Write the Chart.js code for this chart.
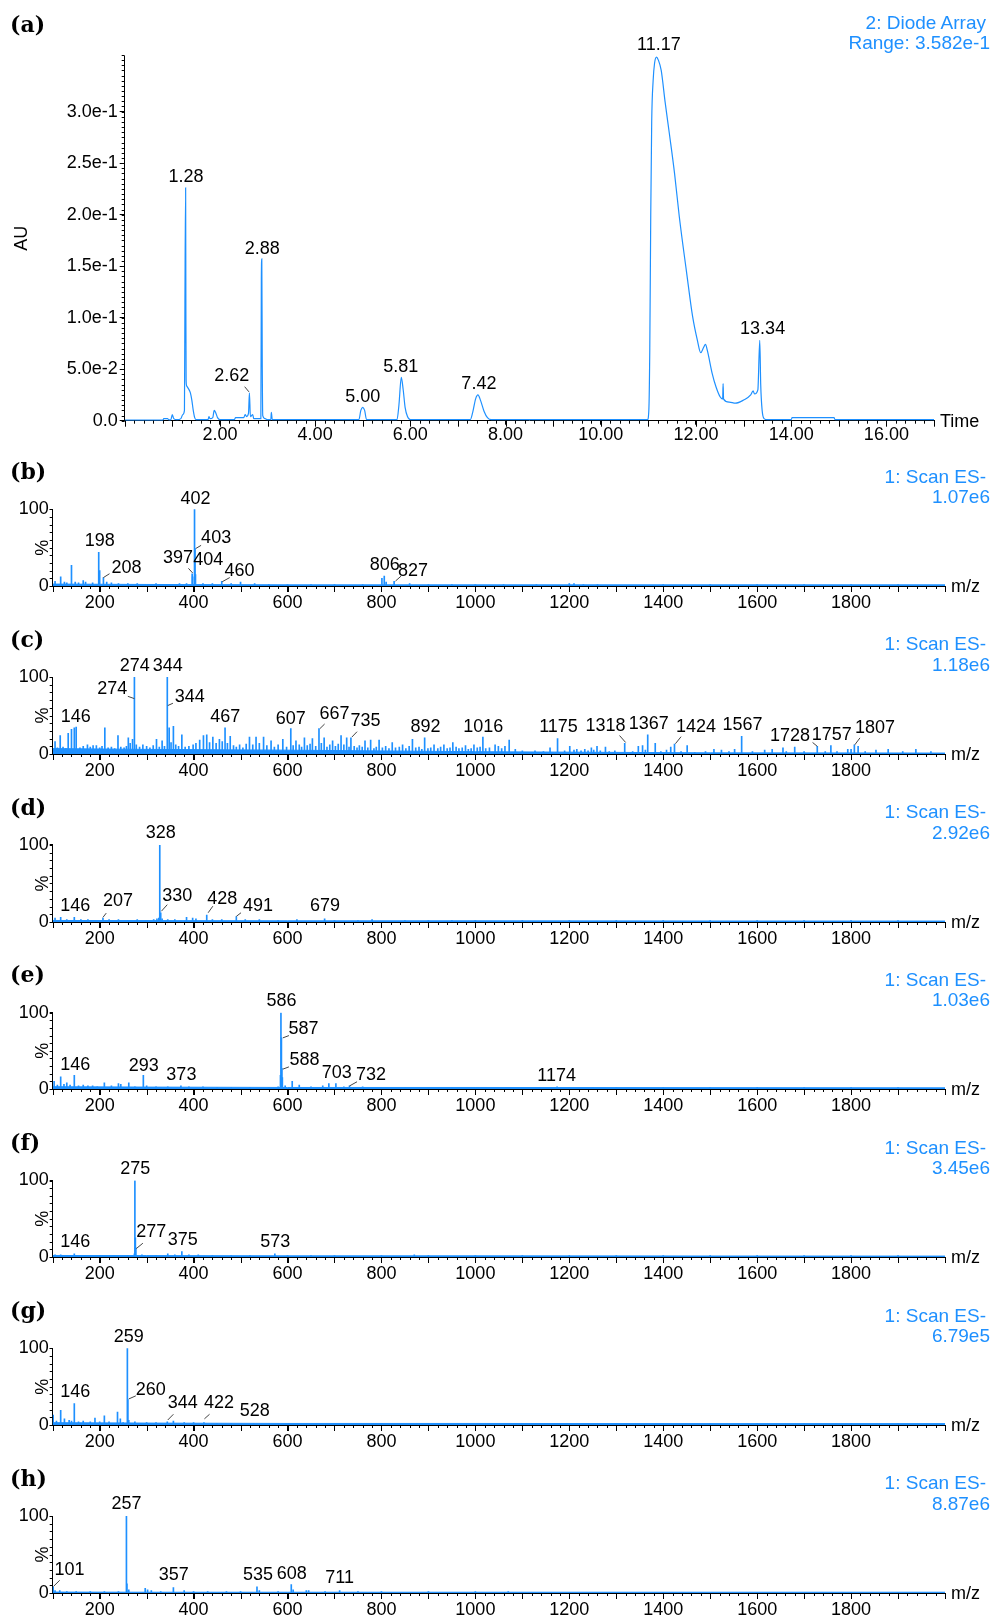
<!DOCTYPE html>
<html>
<head>
<meta charset="utf-8">
<script src="https://cdn.jsdelivr.net/npm/chart.js@4.4.1/dist/chart.umd.min.js"></script>
<style>
  html, body { margin: 0; padding: 0; background: #fff; }
  body { position: relative; width: 995px; height: 1618px; overflow: hidden; }
  canvas { position: absolute; left: 0; }
  .tag { position: absolute; left: 10px; font: bold 22px "DejaVu Serif", serif; line-height: 24px; color: #000; z-index: 2; }
  .info { position: absolute; font: 19px "Liberation Sans", Arial, sans-serif; line-height: 19px; color: #1e90ff; text-align: right; white-space: nowrap; z-index: 2; }
</style>
</head>
<body>
<script>
// ---------- (a) UV chromatogram, diode array ----------
const timeMin = [0.00, 0.80, 0.82, 0.90, 0.93, 0.97, 1.00, 1.03, 1.10, 1.18, 1.22, 1.255, 1.265, 1.28, 1.285, 1.29, 1.30, 1.34, 1.38, 1.41, 1.44, 1.47, 1.50,
  1.75, 1.77, 1.79, 1.85, 1.88, 1.91, 1.95, 2.00, 2.30, 2.33, 2.50, 2.53, 2.56, 2.60, 2.62, 2.64, 2.69, 2.71, 2.86, 2.87, 2.88, 2.89, 2.90, 2.95, 3.00,
  3.07, 3.08, 3.10, 4.92, 4.96, 5.00, 5.04, 5.08, 5.72, 5.76, 5.81, 5.85, 5.89, 5.94, 6.00, 7.26, 7.31, 7.37, 7.42, 7.48, 7.55, 7.62, 7.70,
  10.98, 11.01, 11.03, 11.05, 11.07, 11.10, 11.13, 11.17, 11.21, 11.27, 11.35, 11.44, 11.55, 11.65, 11.80, 11.93, 12.03, 12.10, 12.16, 12.20, 12.24,
  12.34, 12.42, 12.51, 12.56, 12.57, 12.58, 12.70, 12.83, 13.00, 13.15, 13.20, 13.23, 13.30, 13.34, 13.36, 13.39, 13.43, 13.50, 14.00, 14.02, 14.90, 14.92, 17.00];
const absorbance = [0.0005, 0.0005, 0.002, 0.002, 0.0008, 0.001, 0.006, 0.002, 0.001, 0.002, 0.006, 0.010, 0.114, 0.226, 0.110, 0.040, 0.034, 0.031, 0.027, 0.020, 0.010, 0.003, 0.001,
  0.001, 0.004, 0.002, 0.003, 0.010, 0.008, 0.003, 0.001, 0.001, 0.003, 0.003, 0.006, 0.004, 0.007, 0.027, 0.004, 0.006, 0.002, 0.002, 0.137, 0.157, 0.050, 0.005, 0.002, 0.001,
  0.001, 0.008, 0.001, 0.001, 0.010, 0.013, 0.010, 0.001, 0.001, 0.015, 0.042, 0.030, 0.013, 0.004, 0.001, 0.001, 0.008, 0.021, 0.025, 0.019, 0.009, 0.003, 0.001,
  0.001, 0.010, 0.070, 0.200, 0.290, 0.330, 0.347, 0.353, 0.350, 0.340, 0.310, 0.279, 0.240, 0.198, 0.145, 0.101, 0.078, 0.066, 0.071, 0.074, 0.068,
  0.046, 0.033, 0.023, 0.021, 0.036, 0.021, 0.018, 0.017, 0.020, 0.025, 0.029, 0.026, 0.030, 0.078, 0.035, 0.010, 0.002, 0.001, 0.001, 0.003, 0.003, 0.001, 0.001];
const timeTicks = [2, 4, 6, 8, 10, 12, 14, 16];
const auTicks = [0, 0.05, 0.10, 0.15, 0.20, 0.25, 0.30];
const chromPeaks = [1.28, 2.62, 2.88, 5.00, 5.81, 7.42, 11.17, 13.34];

// ---------- (b)-(h) ES- mass spectra, relative abundance (%) ----------
const mzTicks = [200, 400, 600, 800, 1000, 1200, 1400, 1600, 1800];
const floorMz = [100, 300, 600, 1000, 1500, 2000];

const mzB = [105, 117, 125, 130, 140, 148, 155, 165, 170, 185, 198, 200, 208, 215, 225, 240, 260, 280, 300, 320, 345, 370, 385, 397, 398, 402, 403, 404, 420, 440, 460, 480, 500, 530, 560, 600, 650, 700, 760, 801, 806, 810, 827, 860, 900, 950, 1000, 1060, 1130, 1200, 1210, 1230, 1260, 1400, 1500, 1600, 1700, 1800, 1900];
const relB = [6, 12, 5, 4, 27, 5, 4, 7, 5, 4, 44, 20, 11, 5, 4, 3, 3, 3, 2, 3, 2, 3, 3, 16, 12, 100, 49, 15, 3, 3, 6, 3, 5, 3, 2, 2, 2, 2, 2, 10, 13, 5, 6, 3, 2, 2, 2, 2, 2, 3, 3, 2, 2, 2, 2, 2, 2, 2, 2];
const floorB = [2.5, 2, 1.5, 1.5, 1.5, 1.5];
const peaksB = [402, 198, 208, 397, 403, 404, 460, 806, 827];

const mzC = [105, 110, 116, 122, 128, 133, 140, 146, 150, 158, 165, 174, 180, 186, 193, 200, 205, 211, 218, 225, 232, 239, 245, 252, 257, 261, 265, 270, 274, 278, 285, 292, 300, 307, 314, 321, 327, 333, 338, 344, 348, 352, 357, 362, 368, 375, 382, 390, 399,
  405, 413, 421, 428, 434, 441, 448, 455, 461, 467, 472, 478, 485, 491, 498, 505, 512, 519, 526, 533, 540, 549, 556, 565, 572, 580, 590, 598, 607, 612, 618, 625, 630, 636, 642, 648, 653, 660, 667, 672, 678, 684, 690, 696, 702, 708, 714, 720, 726, 731, 735,
  742, 748, 753, 759, 765, 771, 777, 784, 789, 795, 802, 809, 816, 823, 830, 838, 845, 852, 859, 866, 873, 880, 886, 892, 899, 905, 912, 920, 926, 933, 940, 946, 952, 959, 965, 972, 979, 985, 991, 997,
  1004, 1010, 1016, 1022, 1030, 1042, 1049, 1056, 1063, 1072, 1085, 1100, 1127, 1145, 1159, 1175, 1190, 1201, 1210, 1216, 1225, 1233, 1240, 1247, 1252, 1259, 1266, 1277, 1285, 1297, 1318, 1335, 1347, 1356, 1362, 1367, 1383, 1395,
  1407, 1416, 1424, 1438, 1451, 1467, 1490, 1508, 1524, 1540, 1552, 1567, 1590, 1616, 1632, 1655, 1662, 1680, 1700, 1728, 1745, 1757, 1770, 1793, 1800, 1807, 1815, 1830, 1853, 1879, 1910, 1938, 1970];
const relC = [16, 8, 24, 9, 7, 27, 32, 34, 35, 8, 10, 12, 9, 11, 11, 8, 10, 34, 8, 9, 7, 24, 9, 8, 10, 21, 14, 19, 100, 12, 9, 12, 10, 8, 11, 19, 9, 17, 10, 100, 34, 15, 36, 12, 10, 25, 9, 10, 12,
  14, 18, 24, 25, 15, 22, 14, 19, 16, 34, 14, 23, 11, 9, 12, 8, 13, 22, 12, 22, 14, 22, 11, 17, 9, 12, 19, 9, 33, 11, 17, 12, 9, 21, 11, 13, 20, 10, 33, 14, 21, 9, 12, 17, 10, 13, 24, 12, 21, 9, 21,
  10, 8, 11, 9, 17, 8, 18, 7, 9, 18, 8, 10, 7, 15, 8, 9, 12, 7, 10, 19, 8, 9, 6, 21, 7, 8, 12, 7, 9, 12, 7, 8, 15, 9, 7, 8, 11, 6, 7, 12,
  8, 9, 22, 7, 8, 12, 10, 7, 10, 18, 6, 4, 4, 3, 8, 20, 4, 10, 5, 6, 4, 6, 4, 8, 5, 10, 4, 9, 3, 4, 14, 3, 10, 11, 5, 25, 14, 3,
  5, 9, 13, 3, 11, 2, 3, 6, 5, 3, 6, 23, 3, 5, 6, 8, 3, 9, 3, 10, 3, 11, 3, 6, 6, 12, 10, 3, 5, 6, 3, 6, 3];
const floorC = [7, 6, 5, 3, 1.5, 1.2];
const peaksC = [274, 344, 274, 344, 146, 467, 607, 667, 735, 892, 1016, 1175, 1318, 1367, 1424, 1567, 1728, 1757, 1807];

const mzD = [105, 117, 130, 146, 160, 175, 190, 207, 220, 240, 260, 280, 300, 315, 322, 326, 328, 330, 333, 345, 360, 385, 398, 405, 428, 440, 460, 491, 510, 540, 580, 620, 679, 700, 750, 780, 850, 900, 950, 1000, 1100, 1200, 1300, 1400, 1500, 1600, 1700, 1800, 1900];
const relD = [5, 6, 3, 6, 3, 3, 2, 5, 3, 3, 2, 3, 2, 3, 4, 5, 100, 12, 4, 3, 3, 6, 5, 4, 9, 3, 3, 7, 3, 3, 2, 3, 4, 2, 2, 3, 2, 2, 2, 2, 2, 2, 2, 2, 2, 2, 2, 2, 2];
const floorD = [2, 1.8, 1.5, 1.5, 1.3, 1.2];
const peaksD = [328, 330, 146, 207, 428, 491, 679];

const mzE = [103, 110, 117, 124, 130, 137, 146, 155, 165, 175, 185, 195, 210, 225, 240, 245, 262, 275, 293, 300, 320, 345, 373, 390, 420, 450, 480, 520, 560, 580, 585, 586, 587, 588, 589, 595, 610, 625, 650, 675, 688, 703, 720, 732, 760, 800, 850, 900, 950, 1000, 1100, 1174, 1200, 1250, 1300, 1400, 1500, 1600, 1700, 1800, 1900];
const relE = [10, 5, 16, 6, 8, 5, 18, 4, 5, 4, 4, 3, 8, 4, 7, 6, 8, 3, 18, 4, 3, 3, 4, 3, 3, 2, 2, 2, 2, 3, 18, 100, 67, 27, 15, 4, 10, 5, 3, 4, 7, 7, 3, 4, 3, 2, 2, 2, 2, 2, 2, 3, 2, 2, 2, 2, 2, 2, 2, 2, 2];
const floorE = [3, 2.5, 2, 2, 1.8, 1.5];
const peaksE = [586, 587, 588, 146, 293, 373, 703, 732, 1174];

const mzF = [105, 117, 130, 146, 170, 200, 230, 260, 274, 275, 276, 277, 290, 320, 345, 360, 375, 390, 410, 440, 480, 520, 573, 600, 650, 700, 800, 870, 900, 1000, 1100, 1200, 1300, 1400, 1500, 1600, 1700, 1800, 1900];
const relF = [3, 3, 2, 4, 2, 2, 2, 2, 4, 100, 25, 12, 3, 2, 4, 3, 7, 3, 3, 2, 2, 2, 4, 2, 2, 2, 2, 3, 2, 2, 2, 2, 2, 2, 2, 2, 2, 2, 2];
const floorF = [2, 1.8, 1.5, 1.5, 1.3, 1.2];
const peaksF = [275, 277, 146, 375, 573];

const mzG = [101, 108, 117, 125, 135, 140, 146, 155, 165, 180, 190, 200, 210, 220, 238, 244, 250, 259, 260, 262, 275, 300, 320, 344, 357, 380, 400, 422, 450, 480, 528, 560, 600, 700, 800, 900, 1000, 1100, 1200, 1300, 1400, 1500, 1600, 1700, 1800, 1900];
const relG = [13, 5, 19, 8, 6, 5, 28, 4, 5, 4, 9, 4, 12, 4, 17, 8, 3, 100, 33, 6, 4, 3, 3, 4, 5, 3, 3, 3, 2, 2, 2, 2, 2, 2, 2, 2, 2, 2, 2, 2, 2, 2, 2, 2, 2, 2];
const floorG = [3, 2.5, 2, 2, 1.8, 1.8];
const peaksG = [259, 260, 146, 344, 422, 528];

const mzH = [101, 105, 115, 130, 150, 180, 210, 240, 257, 258, 262, 297, 302, 310, 330, 357, 380, 400, 430, 470, 500, 535, 540, 580, 608, 612, 640, 645, 680, 711, 750, 800, 900, 1000, 1070, 1200, 1400, 1600, 1800, 1900];
const relH = [8, 3, 3, 2, 2, 2, 2, 2, 100, 12, 4, 6, 4, 3, 2, 7, 3, 2, 2, 2, 2, 8, 3, 2, 11, 4, 3, 3, 2, 3, 2, 2, 2, 2, 2, 1, 1, 1, 1, 1];
const floorH = [1.2, 1, 1, 1, 1, 1];
const peaksH = [257, 101, 357, 535, 608, 711];

const scanTotals = ['1.07e6', '1.18e6', '2.92e6', '1.03e6', '3.45e6', '6.79e5', '8.87e6'];

// ---------- annotation layout (text centre, optional leader line), in axis units ----------
const chromPlace = [[1.29, 0.237], [2.25, 0.0434, 2.52, 0.033, 2.61, 0.028], [2.89, 0.167], [5.00, 0.0233], [5.80, 0.0524], [7.44, 0.0356], [11.22, 0.365], [13.40, 0.0887]];
const placeB = [[404, 113], [200, 59], [257, 23, 221, 16, 208, 11], [367, 36, 389, 23, 398, 17], [448, 62, 416, 53, 405, 49], [431, 34], [498, 20, 477, 11, 461, 5.6], [807, 27], [867, 19, 842, 13, 830, 6.5]];
const placeC = [[274.5, 115], [345, 115], [227, 85, 260, 75, 274, 72], [392, 74, 356, 66, 345, 63], [149, 48], [467.5, 48], [607, 46], [700, 52.5, 679, 39, 669, 33], [766, 42.5, 748, 29, 737, 22],
  [894, 35], [1017, 35], [1177, 35], [1277, 37, 1307, 24, 1320, 15], [1369, 39.5], [1470, 35, 1438, 22.5, 1426, 13.4], [1569, 38], [1670, 23, 1718, 15, 1728, 10], [1759, 25], [1851, 34, 1819, 21, 1808, 12]];
const placeD = [[330, 115], [365, 34, 344, 22.5, 331.5, 14], [148, 21], [239, 27, 214, 11.5, 207, 6], [461, 30, 441, 20.5, 431, 12], [537, 20.5, 501, 12, 491, 7.3], [680, 20.5]];
const placeE = [[587, 115], [634, 79, 603, 70, 590, 67], [636, 38, 603, 29, 590, 26], [148, 32], [294, 30], [374, 18], [705, 21], [778, 18, 748, 9.5, 732, 4], [1173, 17]];
const placeF = [[276, 115], [310, 32.6, 292, 18, 278, 11], [148, 19.6], [377, 22.6], [574, 19.6]];
const placeG = [[262, 115], [309, 45.6, 277, 38, 262, 34], [148, 42.5], [377, 28, 357, 14, 345, 6.5], [454, 28, 434, 14, 423, 8], [530, 17.7]];
const placeH = [[257, 115.6], [136, 30.5, 115, 16.6, 102, 8.7], [358, 23], [537, 23], [609, 25], [711, 19]];

// ---------- drawing ----------
const BLUE = '#1e90ff';
const FONT = '"Liberation Sans", Arial, sans-serif';
const tickFont = { family: FONT, size: 18 };

function addDiv(cls, text, css) {
  const d = document.createElement('div');
  d.className = cls;
  d.textContent = text;
  Object.assign(d.style, css);
  document.body.appendChild(d);
}

function addCanvas(top, height) {
  const c = document.createElement('canvas');
  c.width = 995; c.height = height;
  c.style.top = top + 'px';
  c.style.width = '995px'; c.style.height = height + 'px';
  document.body.appendChild(c);
  return c;
}

// small tick marks between the labelled ones
function minorTicks(o) {
  return {
    id: 'minorTicks',
    afterDraw(chart) {
      const { ctx, chartArea: a, scales: { x, y } } = chart;
      ctx.save();
      ctx.strokeStyle = '#000';
      ctx.lineWidth = 1;
      ctx.beginPath();
      const nx = Math.round((x.max - x.min) / o.xStep);
      for (let k = 0; k <= nx; k++) {
        const px = Math.round(x.getPixelForValue(x.min + k * o.xStep)) + 0.5;
        const len = k % o.xLongEvery === 0 ? o.xLong : o.xShort;
        ctx.moveTo(px, a.bottom);
        ctx.lineTo(px, a.bottom + len);
      }
      const ny = Math.round((y.max - y.min) / o.yStep);
      for (let k = 0; k <= ny; k++) {
        const py = Math.round(y.getPixelForValue(y.min + k * o.yStep)) + 0.5;
        ctx.moveTo(a.left, py);
        ctx.lineTo(a.left - o.yLen, py);
      }
      ctx.stroke();
      ctx.restore();
    }
  };
}

// peak annotations with optional leader lines
function peakText(values, place, digits) {
  return {
    id: 'peakText',
    afterDatasetsDraw(chart) {
      const { ctx, scales: { x, y } } = chart;
      ctx.save();
      ctx.font = '18px ' + FONT;
      ctx.fillStyle = '#000';
      ctx.textAlign = 'center';
      ctx.textBaseline = 'middle';
      ctx.strokeStyle = '#444';
      ctx.lineWidth = 1;
      values.forEach((v, i) => {
        const p = place[i];
        ctx.fillText(v.toFixed(digits), x.getPixelForValue(p[0]), y.getPixelForValue(p[1]));
        if (p.length > 2) {
          ctx.beginPath();
          ctx.moveTo(x.getPixelForValue(p[2]), y.getPixelForValue(p[3]));
          ctx.lineTo(x.getPixelForValue(p[4]), y.getPixelForValue(p[5]));
          ctx.stroke();
        }
      });
      ctx.restore();
    }
  };
}

// axis names: horizontal one after the x axis end, vertical one left of the y axis
function axisNames(xName, yName, yNameX) {
  return {
    id: 'axisNames',
    afterDraw(chart) {
      const { ctx, chartArea: a } = chart;
      ctx.save();
      ctx.font = '18px ' + FONT;
      ctx.fillStyle = '#000';
      ctx.textBaseline = 'middle';
      ctx.textAlign = 'left';
      ctx.fillText(xName, a.right + 6, a.bottom + 1);
      ctx.translate(yNameX, (a.top + a.bottom) / 2);
      ctx.rotate(-Math.PI / 2);
      ctx.textAlign = 'center';
      ctx.fillText(yName, 0, 0);
      ctx.restore();
    }
  };
}

function axisStyle(tickLength) {
  return {
    grid: { display: true, drawOnChartArea: false, drawTicks: true, tickLength: tickLength, tickColor: '#000', offset: false },
    border: { display: true, color: '#000', width: 1 }
  };
}

// (a) chromatogram
(function () {
  addDiv('tag', '(a)', { top: '12px' });
  addDiv('info', '2: Diode Array', { top: '13px', right: '9px' });
  addDiv('info', 'Range: 3.582e-1', { top: '33px', right: '5px' });
  const cv = addCanvas(0, 450);
  new Chart(cv, {
    type: 'line',
    data: {
      datasets: [{
        data: timeMin.map((t, k) => ({ x: t, y: absorbance[k] })),
        borderColor: BLUE, borderWidth: 1.2, pointRadius: 0,
        cubicInterpolationMode: 'monotone', fill: false
      }]
    },
    options: {
      responsive: false, animation: false, devicePixelRatio: 1,
      layout: { padding: { top: 56, right: 61, left: 0, bottom: 0 } },
      plugins: { legend: { display: false }, tooltip: { enabled: false } },
      scales: {
        x: Object.assign({
          type: 'linear', min: 0, max: 17, offset: false,
          afterFit(s) { s.height = 29.3; },
          afterBuildTicks(s) { s.ticks = timeTicks.map(v => ({ value: v })); },
          ticks: { font: tickFont, color: '#000', padding: 0, maxRotation: 0, autoSkip: false, callback: v => Number(v).toFixed(2) }
        }, axisStyle(4)),
        y: Object.assign({
          type: 'linear', min: 0, max: 0.354,
          afterFit(s) { s.width = 124.7; },
          afterBuildTicks(s) { s.ticks = auTicks.map(v => ({ value: v })); },
          ticks: { font: tickFont, color: '#000', padding: 2, autoSkip: false, callback: v => (v === 0 ? '0.0' : Number(v).toExponential(1)) }
        }, axisStyle(5))
      }
    },
    plugins: [
      minorTicks({ xStep: 0.2, xLongEvery: 5, xLong: 6, xShort: 3, yStep: 0.005, yLen: 3 }),
      peakText(chromPeaks, chromPlace, 2),
      axisNames('Time', 'AU', 22)
    ]
  });
})();

// (b)-(h) spectra
const spectra = [
  { tag: '(b)', mz: mzB, rel: relB, floor: floorB, peaks: peaksB, place: placeB },
  { tag: '(c)', mz: mzC, rel: relC, floor: floorC, peaks: peaksC, place: placeC },
  { tag: '(d)', mz: mzD, rel: relD, floor: floorD, peaks: peaksD, place: placeD },
  { tag: '(e)', mz: mzE, rel: relE, floor: floorE, peaks: peaksE, place: placeE },
  { tag: '(f)', mz: mzF, rel: relF, floor: floorF, peaks: peaksF, place: placeF },
  { tag: '(g)', mz: mzG, rel: relG, floor: floorG, peaks: peaksG, place: placeG },
  { tag: '(h)', mz: mzH, rel: relH, floor: floorH, peaks: peaksH, place: placeH }
];

spectra.forEach((p, i) => {
  const zero = 586 + i * 167.8;          // baseline of this panel on the page
  const top = Math.round(zero - 125);
  addDiv('tag', p.tag, { top: (zero - 127) + 'px' });
  addDiv('info', '1: Scan ES-', { top: (zero - 119.5) + 'px', right: '9px' });
  addDiv('info', scanTotals[i], { top: (zero - 99) + 'px', right: '5px' });
  const cv = addCanvas(top, 155);
  new Chart(cv, {
    type: 'bar',
    data: {
      datasets: [
        {
          type: 'bar', order: 1,
          data: p.mz.map((m, k) => ({ x: m, y: p.rel[k] })),
          backgroundColor: BLUE, borderWidth: 0, barThickness: 1
        },
        {
          type: 'line', order: 2,
          data: floorMz.map((m, k) => ({ x: m, y: p.floor[k] })),
          borderColor: BLUE, borderWidth: 1, backgroundColor: BLUE,
          fill: 'origin', pointRadius: 0, tension: 0
        }
      ]
    },
    options: {
      responsive: false, animation: false, devicePixelRatio: 1,
      layout: { padding: { top: (zero - 76.7) - top, right: 50, left: 0, bottom: 0 } },
      plugins: { legend: { display: false }, tooltip: { enabled: false } },
      scales: {
        x: Object.assign({
          type: 'linear', min: 100, max: 2000, offset: false,
          afterFit(s) { s.height = 30; },
          afterBuildTicks(s) { s.ticks = mzTicks.map(v => ({ value: v })); },
          ticks: { font: tickFont, color: '#000', padding: 0, maxRotation: 0, autoSkip: false, callback: v => String(v) }
        }, axisStyle(6)),
        y: Object.assign({
          type: 'linear', min: 0, max: 100,
          afterFit(s) { s.width = 52.7; },
          afterBuildTicks(s) { s.ticks = [{ value: 0 }, { value: 100 }]; },
          ticks: { font: tickFont, color: '#000', padding: 1, autoSkip: false, callback: v => String(v) }
        }, axisStyle(3))
      }
    },
    plugins: [
      minorTicks({ xStep: 20, xLongEvery: 5, xLong: 6, xShort: 3, yStep: 10, yLen: 3 }),
      peakText(p.peaks, p.place, 0),
      axisNames('m/z', '%', 42.7)
    ]
  });
});
</script>
</body>
</html>
